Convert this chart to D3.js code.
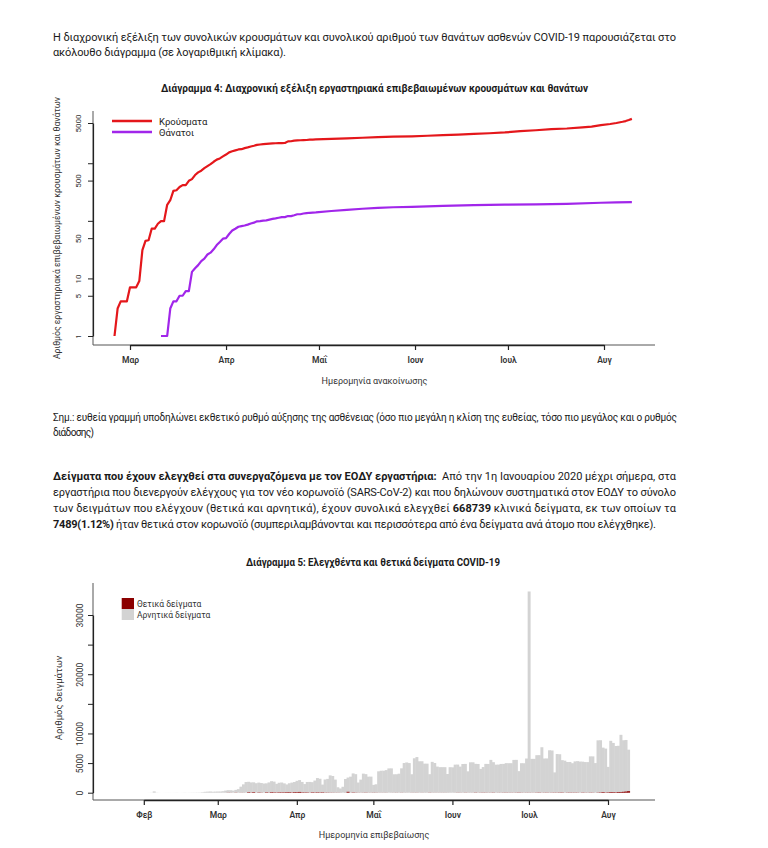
<!DOCTYPE html>
<html><head><meta charset="utf-8">
<script src="https://cdn.jsdelivr.net/npm/d3@7"></script>
<style>
html,body{margin:0;padding:0;background:#fff;}
svg{display:block;}
</style></head><body>
<svg id="page" width="768" height="848"></svg>
<script>
// ---------------- DATA ----------------
// Chart 4: cumulative cases / deaths (log scale)
const monthTicks1 = ["2020-03-01","2020-04-01","2020-05-01","2020-06-01","2020-07-01","2020-08-01"];
const monthLabels1 = ["Μαρ","Απρ","Μαΐ","Ιουν","Ιουλ","Αυγ"];
const logTicks = [1,5,10,50,100,500,1000,5000];
const logTickLabels = ["1","5","10","50","","500","","5000"];

const caseDailyStart = "2020-02-25";
const caseDaily = [1,3,4,4,4,
  7,7,7,9,31,45,46,73,73,89,99,99,190,228,331,340,387,418,418,495,530,624,695,743,821,892,966,1061,1156,1212,1314,
  1415,1544,1613,1673,1735,1755,1832,1884,1955,2011,2081,2114,2145,2170,2192,2207,2224,2235,2235,2245,2401,2408,2463,2490,2506,2517,2534,2566,2576,2591];
const caseLaterDates = ["2020-05-05","2020-05-10","2020-05-15","2020-05-20","2020-05-25","2020-05-31","2020-06-05","2020-06-10","2020-06-15","2020-06-20","2020-06-25","2020-06-30","2020-07-05","2020-07-10","2020-07-15","2020-07-20","2020-07-25","2020-07-28","2020-07-31","2020-08-03","2020-08-05","2020-08-07","2020-08-08","2020-08-09","2020-08-10"];
const caseLater = [2650,2710,2770,2850,2890,2930,3000,3080,3150,3240,3320,3430,3600,3740,3900,4010,4200,4340,4600,4800,5000,5250,5400,5620,5900];

const deathDailyStart = "2020-03-11";
const deathDaily = [1,1,1,3,4,4,5,5,6,6,13,15,17,20,22,26,28,32,38,43,49,
  50,59,68,73,79,81,83,86,90,93,98,99,101,102,105,108,110,113,116,116,121,121,125,130,130,134,136,138,139,140];
const deathLaterDates = ["2020-05-05","2020-05-10","2020-05-15","2020-05-20","2020-05-25","2020-05-31","2020-06-10","2020-06-20","2020-06-30","2020-07-10","2020-07-20","2020-07-31","2020-08-05","2020-08-10"];
const deathLater = [148,155,162,168,172,175,182,188,191,193,197,206,209,212];

const seriesNames1 = ["Κρούσματα","Θάνατοι"];

// Chart 5: daily tested samples
const monthTicks2 = ["2020-02-01","2020-03-01","2020-04-01","2020-05-01","2020-06-01","2020-07-01","2020-08-01"];
const monthLabels2 = ["Φεβ","Μαρ","Απρ","Μαΐ","Ιουν","Ιουλ","Αυγ"];
const sampleTicks = [0,5000,10000,15000,20000,25000,30000];
const sampleTickLabels = ["0","5000","10000","","20000","","30000"];
const sampleStart = "2020-02-01";
const negativeSamples = [
  // Feb
  0,0,10,20,220,30,10,0,5,10,10,5,10,15,5,10,20,10,15,20,25,30,40,80,150,180,200,160,180,
  // Mar
  200,200,250,350,400,400,350,450,600,1000,1400,1800,1750,1700,1650,1600,1650,1600,1550,1500,1700,1850,1800,1450,1600,1650,1500,1300,1500,1650,1700,
  // Apr
  1900,2000,1750,1400,1750,1800,1700,2000,2400,2300,1300,2200,2300,2900,2800,2200,900,700,1000,2300,2400,2700,3200,3100,1700,2200,3200,3100,2700,2700,
  // May
  1300,1400,3600,3700,3700,3800,4100,4100,3100,3100,3200,4100,5000,5100,5000,3100,5800,6000,5300,5300,4900,4900,3100,5200,5000,4400,4300,4300,4300,3150,4300,
  // Jun
  4280,4730,4730,4390,4840,4840,3600,5120,5120,4840,4840,4000,4300,4840,4840,5520,5120,4730,4730,4840,4840,4960,4960,4960,5520,5520,3600,4960,4960,5750,
  // Jul
  33950,5700,5700,6300,6300,7660,5750,5750,7150,7100,3400,6500,6450,5450,5400,5150,5150,4950,5250,5300,5250,5200,5150,5150,6100,6100,5000,8800,8800,7500,7400,
  // Aug
  4280,8650,8300,7800,7800,9650,8700,8700,7000];
const positiveSamples = [
  0,0,0,0,0,0,0,0,0,0,0,0,0,0,0,0,0,0,0,0,0,0,0,0,0,1,2,1,0,
  3,0,0,2,22,14,1,27,0,16,10,0,91,38,103,0,56,31,0,77,35,94,71,48,78,71,74,95,95,56,102,
  101,129,69,60,62,20,77,52,71,56,70,33,31,25,22,15,17,11,0,10,156,7,55,27,16,11,17,32,10,15,
  21,21,9,10,11,13,0,7,9,14,5,16,7,7,2,14,10,16,3,13,4,5,23,8,10,8,10,9,12,6,5,
  0,8,19,15,5,22,10,6,11,34,10,22,29,24,13,20,33,6,16,15,23,29,19,21,15,24,40,20,13,20,
  22,14,14,31,39,14,23,33,13,29,30,27,42,47,8,31,39,28,36,28,9,41,23,17,33,30,1,43,57,110,45,
  78,110,102,80,120,122,153,203,262];
const seriesNames2 = ["Θετικά δείγματα","Αρνητικά δείγματα"];

// ---------------- DRAW ----------------
const FONT = "Roboto, 'Open Sans', 'Noto Sans', sans-serif";
const parse = d3.utcParse("%Y-%m-%d");
const svg = d3.select("#page");
svg.append("rect").attr("width",768).attr("height",848).attr("fill","#fff");

function addText(x, y, parts, o = {}) {
  const t = svg.append("text").attr("x", x).attr("y", y)
    .attr("font-family", o.family || FONT).attr("font-size", o.size || 11)
    .attr("fill", o.fill || "#1a1a1a").attr("text-anchor", o.anchor || "start")
    .style("white-space", "pre");
  if (o.weight) t.attr("font-weight", o.weight);
  if (o.length) t.attr("textLength", o.length).attr("lengthAdjust", o.adjust || "spacing");
  if (o.rotate) t.attr("transform", `rotate(${o.rotate},${x},${y})`);
  parts.forEach(p => t.append("tspan").attr("font-weight", p.b ? 700 : null).text(p.t));
  return t;
}

// body text
addText(53, 41, [{t:"Η διαχρονική εξέλιξη των συνολικών κρουσμάτων και συνολικού αριθμού των θανάτων ασθενών COVID-19 παρουσιάζεται στο"}], {length:623});
addText(53, 56, [{t:"ακόλουθο διάγραμμα (σε λογαριθμική κλίμακα)."}], {length:233});

addText(53, 421, [{t:"Σημ.: ευθεία γραμμή υποδηλώνει εκθετικό ρυθμό αύξησης της ασθένειας (όσο πιο μεγάλη η κλίση της ευθείας, τόσο πιο μεγάλος και ο ρυθμός"}], {length:624, size:10});
addText(53, 436, [{t:"διάδοσης)"}], {length:41, size:10});

addText(53, 480, [{t:"Δείγματα που έχουν ελεγχθεί στα συνεργαζόμενα με τον ΕΟΔΥ εργαστήρια:", b:true},{t:"  Από την 1η Ιανουαρίου 2020 μέχρι σήμερα, στα"}], {length:623});
addText(53, 496, [{t:"εργαστήρια που διενεργούν ελέγχους για τον νέο κορωνοϊό (SARS-CoV-2) και που δηλώνουν συστηματικά στον ΕΟΔΥ το σύνολο"}], {length:623});
addText(53, 512, [{t:"των δειγμάτων που ελέγχουν (θετικά και αρνητικά), έχουν συνολικά ελεγχθεί "},{t:"668739", b:true},{t:" κλινικά δείγματα, εκ των οποίων τα"}], {length:623});
addText(53, 528, [{t:"7489(1.12%)", b:true},{t:" ήταν θετικά στον κορωνοϊό (συμπεριλαμβάνονται και περισσότερα από ένα δείγματα ανά άτομο που ελέγχθηκε)."}], {length:603});

// ---------- Chart 4 ----------
const x1 = d3.scaleUtc().domain([parse("2020-03-01"), parse("2020-08-01")]).range([130, 604]);
const y1 = d3.scaleLog().domain([1, 5000]).range([336, 123]);
const g1 = svg.append("g");

addText(374.5, 92, [{t:"Διάγραμμα 4: Διαχρονική εξέλιξη εργαστηριακά επιβεβαιωμένων κρουσμάτων και θανάτων"}], {anchor:"middle", weight:700, size:10, length:427, adjust:"spacingAndGlyphs"});

// box (L)
g1.append("path").attr("d","M93,111V345H655").attr("fill","none").attr("stroke","#555").attr("stroke-width",1);

const xAxis1 = d3.axisBottom(x1).tickValues(monthTicks1.map(parse)).tickFormat((d,i)=>monthLabels1[i]).tickSize(5).tickSizeOuter(0);
const gx1 = g1.append("g").attr("transform","translate(0,345)").call(xAxis1);
gx1.select(".domain").attr("stroke","#222").attr("stroke-width",1.6);
gx1.selectAll(".tick line").attr("stroke","#222").attr("stroke-width",1.2);
gx1.selectAll(".tick text").attr("y",12).attr("dy","0.71em").attr("font-family",FONT).attr("font-size",8.5).attr("font-weight",600).attr("fill","#333");

const yAxis1 = d3.axisLeft(y1).tickValues(logTicks).tickFormat((d,i)=>logTickLabels[i]).tickSize(5).tickSizeOuter(0);
const gy1 = g1.append("g").attr("transform","translate(93,0)").call(yAxis1);
gy1.select(".domain").attr("stroke","#222").attr("stroke-width",1.2);
gy1.selectAll(".tick line").attr("stroke","#222");
gy1.selectAll(".tick text").attr("x",0).attr("y",-12).attr("dy",null).attr("text-anchor","middle")
  .attr("transform","rotate(-90)").attr("font-family",FONT).attr("font-size",8).attr("fill","#333");

const casePts = caseDaily.map((v,i)=>({date:d3.utcDay.offset(parse(caseDailyStart), i), v}))
  .concat(caseLater.map((v,i)=>({date:parse(caseLaterDates[i]), v})));
const deathPts = deathDaily.map((v,i)=>({date:d3.utcDay.offset(parse(deathDailyStart), i), v}))
  .concat(deathLater.map((v,i)=>({date:parse(deathLaterDates[i]), v})));
const line1 = d3.line().x(d=>x1(d.date)).y(d=>y1(d.v));
const colors1 = ["#e4171b","#a126ea"];
[casePts, deathPts].forEach((pts,k)=>{
  g1.append("path").datum(pts).attr("d", line1).attr("fill","none")
    .attr("stroke", colors1[k]).attr("stroke-width",2.2).attr("stroke-linejoin","round");
});
// legend
seriesNames1.forEach((n,k)=>{
  const yy = 121 + k*11;
  g1.append("line").attr("x1",112).attr("x2",152).attr("y1",yy).attr("y2",yy).attr("stroke",colors1[k]).attr("stroke-width",2.4);
  addText(159, yy+3.5, [{t:n}], {size:9.5, fill:"#222"});
});
addText(374.5, 384, [{t:"Ημερομηνία ανακοίνωσης"}], {anchor:"middle", size:9, fill:"#333"});
addText(60, 228, [{t:"Αριθμός εργαστηριακά επιβεβαιωμένων κρουσμάτων και θανάτων"}], {anchor:"middle", size:9, fill:"#333", rotate:-90, length:262, adjust:"spacingAndGlyphs"});

// ---------- Chart 5 ----------
const x2 = d3.scaleUtc().domain([parse("2020-02-01"), parse("2020-08-01")]).range([143.8, 608]);
const y2 = d3.scaleLinear().domain([0, 30000]).range([792.7, 615]);
const g2 = svg.append("g");
addText(373, 566, [{t:"Διάγραμμα 5: Ελεγχθέντα και θετικά δείγματα COVID-19"}], {anchor:"middle", weight:700, size:10, length:254, adjust:"spacingAndGlyphs"});

const bw = x2(parse("2020-02-02")) - x2(parse("2020-02-01"));
const bars = negativeSamples.map((neg,i)=>({date:d3.utcDay.offset(parse(sampleStart), i), neg, pos: positiveSamples[i]}));
const colors2 = ["#8b0000","#d3d3d3"];
g2.selectAll("rect.neg").data(bars).join("rect").attr("class","neg")
  .attr("x", d=>x2(d.date)-bw/2).attr("width", bw+0.4)
  .attr("y", d=>y2(d.pos+d.neg)).attr("height", d=>y2(d.pos)-y2(d.pos+d.neg))
  .attr("fill", colors2[1]);
g2.selectAll("rect.pos").data(bars).join("rect").attr("class","pos")
  .attr("x", d=>x2(d.date)-bw/2).attr("width", bw+0.4)
  .attr("y", d=>y2(d.pos)).attr("height", d=>y2(0)-y2(d.pos))
  .attr("fill", colors2[0]);

g2.append("path").attr("d","M93,583V800H655").attr("fill","none").attr("stroke","#555").attr("stroke-width",1);
const xAxis2 = d3.axisBottom(x2).tickValues(monthTicks2.map(parse)).tickFormat((d,i)=>monthLabels2[i]).tickSize(5).tickSizeOuter(0);
const gx2 = g2.append("g").attr("transform","translate(0,800)").call(xAxis2);
gx2.select(".domain").attr("stroke","#222").attr("stroke-width",1.6);
gx2.selectAll(".tick line").attr("stroke","#222").attr("stroke-width",1.2);
gx2.selectAll(".tick text").attr("y",12).attr("dy","0.71em").attr("font-family",FONT).attr("font-size",8.5).attr("font-weight",600).attr("fill","#333");

const yAxis2 = d3.axisLeft(y2).tickValues(sampleTicks).tickFormat((d,i)=>sampleTickLabels[i]).tickSize(5).tickSizeOuter(0);
const gy2 = g2.append("g").attr("transform","translate(93,0)").call(yAxis2);
gy2.select(".domain").attr("stroke","#222").attr("stroke-width",1.2);
gy2.selectAll(".tick line").attr("stroke","#222");
gy2.selectAll(".tick text").attr("x",0).attr("y",-10).attr("dy",null).attr("text-anchor","middle")
  .attr("transform","rotate(-90)").attr("font-family",FONT).attr("font-size",8.5).attr("fill","#333");

seriesNames2.forEach((n,k)=>{
  g2.append("rect").attr("x",121.7).attr("y",598+k*11).attr("width",12.3).attr("height",11).attr("fill",colors2[k]);
  addText(137, 606.5+k*11, [{t:n}], {size:8.5, fill:"#333"});
});
addText(374, 838, [{t:"Ημερομηνία επιβεβαίωσης"}], {anchor:"middle", size:9, fill:"#333"});
addText(62, 698, [{t:"Αριθμός δειγμάτων"}], {anchor:"middle", size:9.5, fill:"#333", rotate:-90});
</script>
</body></html>
